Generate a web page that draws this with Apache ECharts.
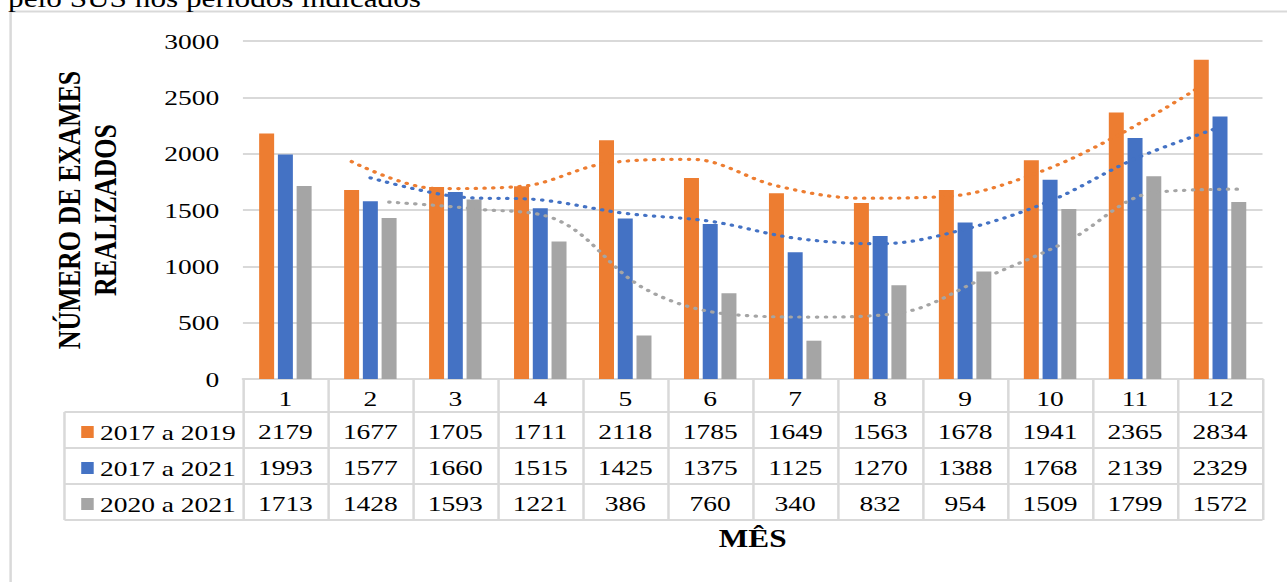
<!DOCTYPE html>
<html>
<head>
<meta charset="utf-8">
<script src="https://cdn.jsdelivr.net/npm/echarts@6/dist/echarts.min.js"></script>
<style>
  html, body { margin: 0; padding: 0; background: #fff; overflow: hidden; }
  #wrap { width: 1287px; height: 582px; overflow: hidden; position: relative; }
  #chart { width: 1030px; height: 582px; transform: scaleX(1.2495); transform-origin: 0 0; position: absolute; left: 0; top: 0; }
</style>
</head>
<body>
<div id="wrap"><div id="chart"></div></div>
<script>
// ---- data ----
const months = ['1','2','3','4','5','6','7','8','9','10','11','12'];
const seriesNames = ['2017 a 2019', '2017 a 2021', '2020 a 2021'];
const v2017_2019 = [2179,1677,1705,1711,2118,1785,1649,1563,1678,1941,2365,2834];
const v2017_2021 = [1993,1577,1660,1515,1425,1375,1125,1270,1388,1768,2139,2329];
const v2020_2021 = [1713,1428,1593,1221,386,760,340,832,954,1509,1799,1572];
// trend lines (moving-average style dotted curves)
const t2017_2019 = [null,1930,1690,1710,1915,1950,1715,1605,1620,1810,2155,2600];
const t2017_2021 = [null,1785,1620,1590,1470,1400,1250,1200,1330,1580,1955,2235];
const t2020_2021 = [null,1570,1510,1405,805,575,550,585,895,1230,1655,1685];
const yTicks = [0,500,1000,1500,2000,2500,3000];

// ---- layout (unscaled coordinates; the container is stretched horizontally) ----
const W = 1030, H = 582;
const GL = 194.4, GR = 1010.4, GT = 41, GB = 379;
const BAR_W = 12, BAR_GAP = 3;
const CAT_W = (GR - GL) / months.length;
const OFF = (BAR_W + BAR_GAP) / CAT_W;
const colors = ['#ED7D31', '#4472C4', '#A5A5A5'];
const FONT = '"Liberation Serif", "Times New Roman", serif';
const gridColor = '#d9d9d9';
const rows = [412, 448, 484, 520];
const tableLeft = 51.6;

const values = [v2017_2019, v2017_2021, v2020_2021];
const trends = [t2017_2019, t2017_2021, t2020_2021];

function trendData(t, k) {
  const out = [];
  t.forEach((v, i) => { if (v != null) out.push([i + 1 + (k - 1) * OFF, v]); });
  return out;
}

const chart = echarts.init(document.getElementById('chart'), null, { renderer: 'svg', width: W, height: H });

const valueAxes = values.map((arr, k) => ({
  type: 'category', gridIndex: 0, position: 'bottom', data: months,
  axisLine: { show: false }, axisTick: { show: false },
  axisLabel: {
    interval: 0, margin: 41 + k * 36, fontFamily: FONT, fontSize: 22, color: '#000',
    formatter: (val, idx) => String(arr[idx])
  }
}));

const graphics = [
  // outer frame
  { type: 'rect', shape: { x: 8.5, y: 11.5, width: 1200, height: 700 }, style: { fill: null, stroke: gridColor, lineWidth: 2 }, silent: true },
  // caption fragment above the frame
  { type: 'text', x: 6.5, y: -1.5, style: { text: 'pelo SUS nos períodos indicados', font: '25px ' + FONT, fill: '#000', textVerticalAlign: 'middle' }, silent: true },
  // table left column frame
  { type: 'line', shape: { x1: tableLeft, y1: rows[0], x2: tableLeft, y2: rows[3] }, style: { stroke: gridColor, lineWidth: 2 }, silent: true }
].concat(rows.map(y => ({
  type: 'line', shape: { x1: tableLeft, y1: y, x2: GR, y2: y }, style: { stroke: gridColor, lineWidth: 2 }, silent: true
})));

const option = {
  animation: false,
  backgroundColor: '#fff',
  color: colors,
  grid: { left: GL, right: W - GR, top: GT, bottom: H - GB, containLabel: false },
  legend: {
    data: seriesNames, orient: 'vertical', left: 60, top: 416, itemGap: 14,
    itemWidth: 10, itemHeight: 12, icon: 'rect', selectedMode: false,
    textStyle: { fontFamily: FONT, fontSize: 22, color: '#000', lineHeight: 22 }
  },
  xAxis: [
    {
      type: 'category', gridIndex: 0, position: 'bottom', data: months,
      name: 'MÊS', nameLocation: 'middle', nameGap: 147, nameMoveOverlap: false,
      nameTextStyle: { fontFamily: FONT, fontSize: 25, fontWeight: 'bold', color: '#000' },
      axisLine: { lineStyle: { color: gridColor, width: 2 } },
      axisTick: { show: true, interval: 0, length: 141, lineStyle: { color: gridColor, width: 2 } },
      axisLabel: { interval: 0, margin: 8, fontFamily: FONT, fontSize: 22, color: '#000' }
    }
  ].concat(valueAxes).concat([
    { type: 'value', gridIndex: 0, min: 0.5, max: 12.5, show: false }
  ]),
  yAxis: [{
    type: 'value', min: yTicks[0], max: yTicks[yTicks.length - 1], interval: yTicks[1] - yTicks[0],
    name: 'NÚMERO DE EXAMES\nREALIZADOS', nameLocation: 'middle', nameGap: 96, nameRotate: 90,
    nameMoveOverlap: false,
    nameTextStyle: { fontFamily: FONT, fontSize: 26, fontWeight: 'bold', color: '#000', lineHeight: 29 },
    axisLine: { show: false }, axisTick: { show: false },
    axisLabel: { margin: 19, fontFamily: FONT, fontSize: 22, color: '#000', formatter: v => String(v) },
    splitLine: { lineStyle: { color: gridColor, width: 2 } }
  }],
  graphic: graphics,
  series: values.map((arr, k) => ({
    name: seriesNames[k], type: 'bar', xAxisIndex: 0, yAxisIndex: 0,
    data: arr, barWidth: BAR_W, barGap: (BAR_GAP / BAR_W * 100) + '%',
    itemStyle: { color: colors[k] }
  })).concat(trends.map((t, k) => ({
    name: seriesNames[k] + ' (tendência)', type: 'line', xAxisIndex: 4, yAxisIndex: 0,
    data: trendData(t, k), smooth: 0.35, showSymbol: false, symbol: 'none', z: 5,
    lineStyle: { color: colors[k], width: 3.2, type: [0.5, 6.5], cap: 'round' }
  })))
};

chart.setOption(option);
</script>
</body>
</html>
